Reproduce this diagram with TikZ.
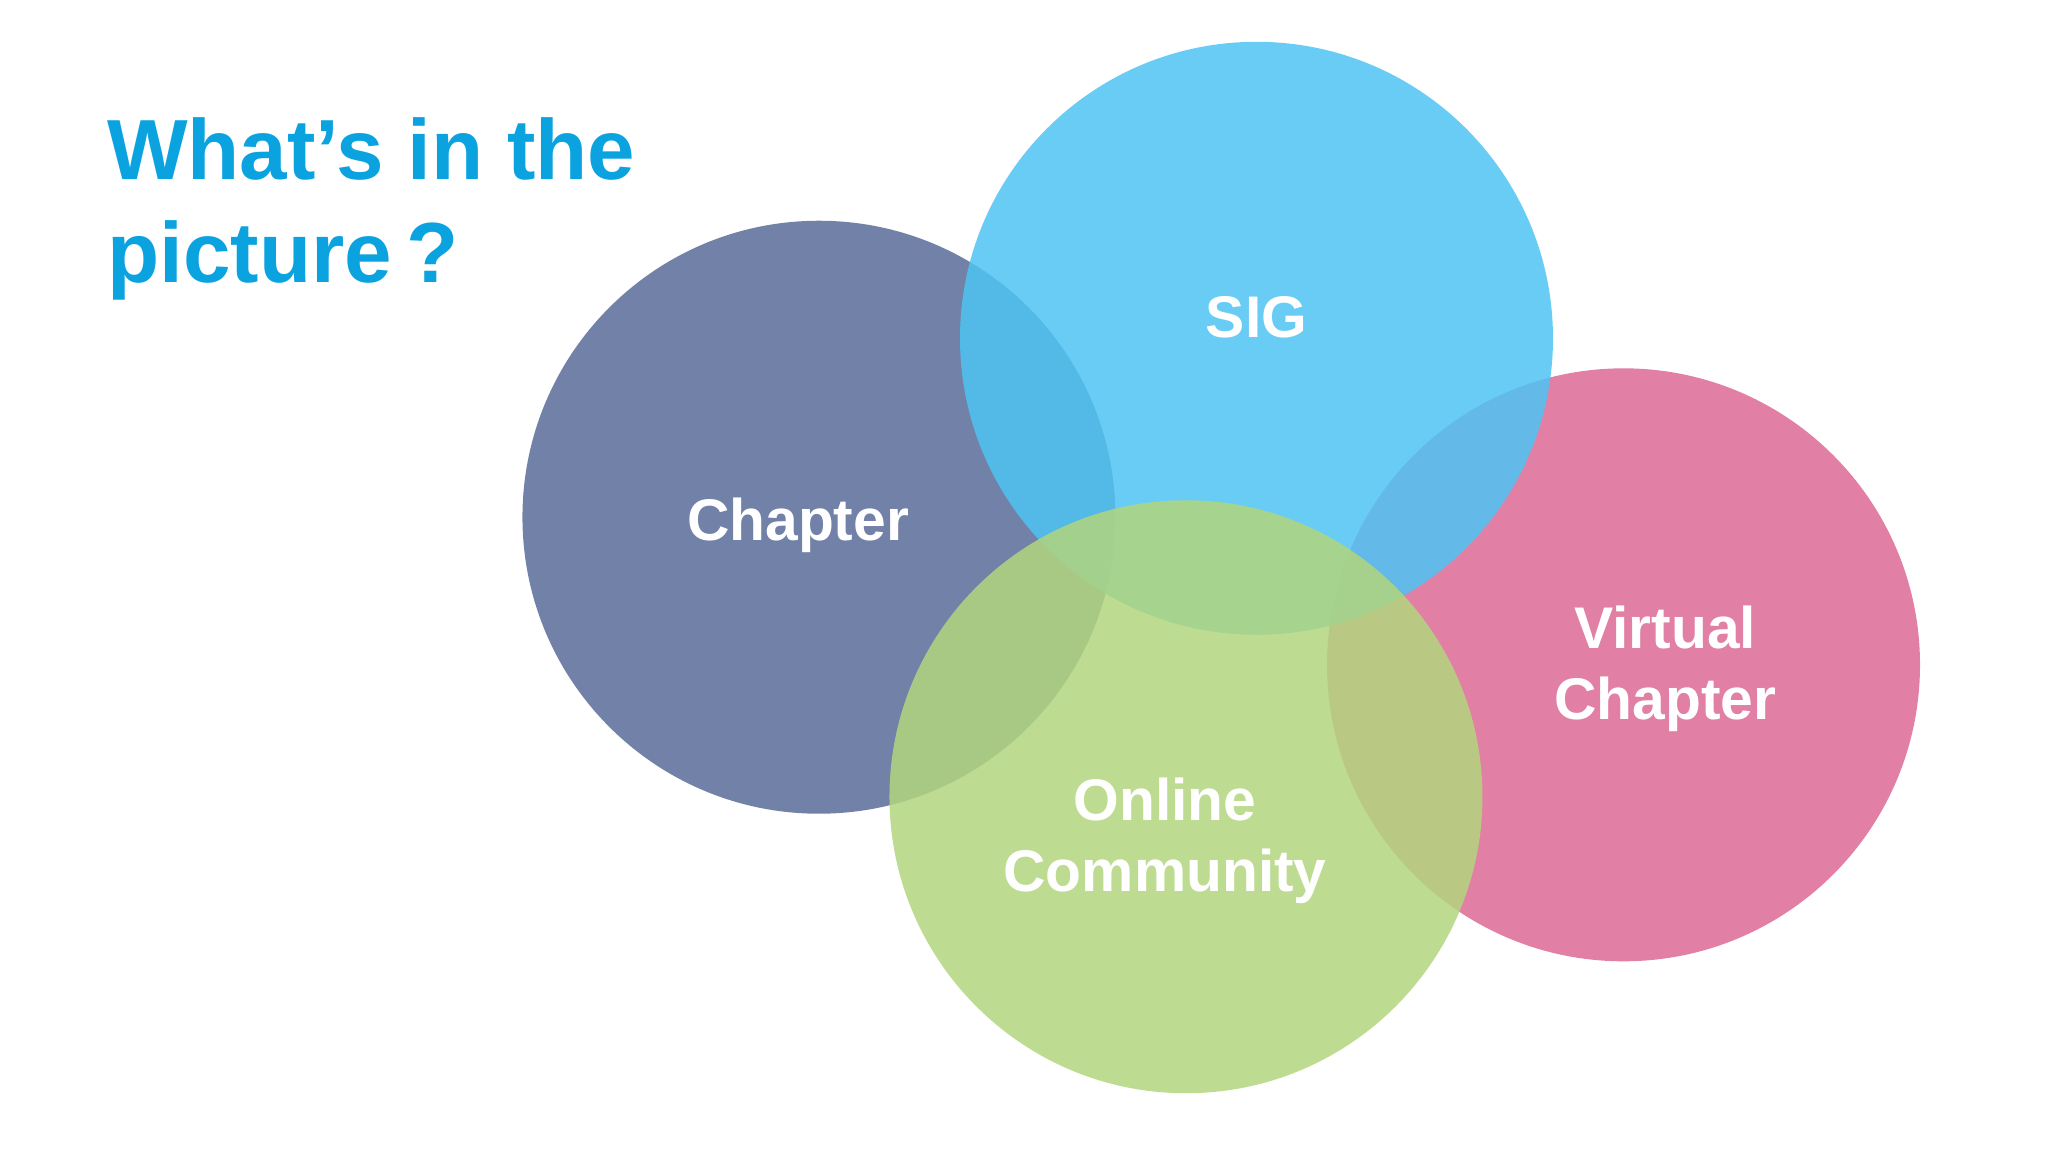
\documentclass[tikz,border=0pt]{standalone}
\usepackage{fontspec}
\setmainfont{Liberation Sans}
\definecolor{cchap}{HTML}{5A6C98}
\definecolor{csig}{HTML}{4EC4F4}
\definecolor{cvir}{HTML}{DC6A95}
\definecolor{conl}{HTML}{B2D67E}
\definecolor{ctitle}{HTML}{0AA3E0}
\tikzset{circ/.style={circle,minimum size=454mm,inner sep=0pt,fill opacity=0.85,text opacity=1},
lbl/.style={text=white,font=\bfseries\fontsize{128}{155}\selectfont,align=center}}
\begin{document}
\begin{tikzpicture}[x=1mm,y=-1mm]
\useasboundingbox (0,0) rectangle (1568,882);
\fill[white] (0,0) rectangle (1568,882);
\node[circ,fill=cchap] (chap) at (627,396) {};
\node[circ,fill=cvir] (vir) at (1243,509) {};
\node[circ,fill=csig] (sig) at (962,259) {};
\node[circ,fill=conl] (onl) at (908,610) {};
\node[lbl] (tchap) at (611,402) {Chapter};
\node[lbl] (tsig) at (962,243) {SIG};
\node[lbl] (tvir) at (1275,512) {Virtual\\Chapter};
\node[lbl] (tonl) at (892,644) {Online\\Community};
\node[anchor=north west,text=ctitle,font=\bfseries\fontsize{186}{225}\selectfont,align=left,inner sep=0pt] (title) at (82,90) {What’s in the\\picture\,?};
\end{tikzpicture}
\end{document}
